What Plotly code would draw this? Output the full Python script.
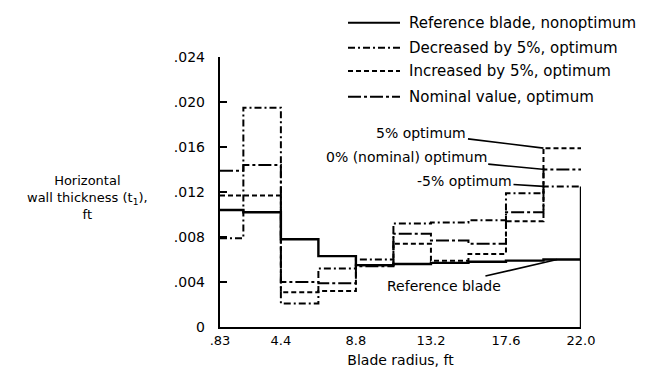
import plotly.graph_objects as go

# ---- data ----
radius_edges = [0.83, 2.2, 4.4, 6.6, 8.8, 11.0, 13.2, 15.4, 17.6, 19.8, 22.0]
reference_blade = [0.0104, 0.0102, 0.0078, 0.0063, 0.0055, 0.0056, 0.0057, 0.0058, 0.0059, 0.0060]
decreased_5 = [0.0079, 0.0195, 0.0021, 0.0052, 0.0060, 0.0092, 0.0093, 0.0095, 0.0119, 0.0125]
increased_5 = [0.0117, 0.0117, 0.0031, 0.0032, 0.0055, 0.0074, 0.0059, 0.0065, 0.0094, 0.0159]
nominal = [0.0139, 0.0144, 0.0040, 0.0039, 0.0054, 0.0083, 0.0077, 0.0074, 0.0102, 0.0140]

x_tickvals = [0.83, 4.4, 8.8, 13.2, 17.6, 22.0]
x_ticktext = [".83", "4.4", "8.8", "13.2", "17.6", "22.0"]
y_tickvals = [0, 0.004, 0.008, 0.012, 0.016, 0.020, 0.024]
y_ticktext = ["0", ".004", ".008", ".012", ".016", ".020", ".024"]

FONT = "DejaVu Sans"

series = [
    ("Reference blade, nonoptimum", reference_blade, "solid", 2.4),
    ("Decreased by 5%, optimum", decreased_5, "7px,3px,2px,3px", 2.0),
    ("Increased by 5%, optimum", increased_5, "5px,3px", 2.0),
    ("Nominal value, optimum", nominal, "13px,3px,3px,3px", 2.0),
]

fig = go.Figure()
for i, (name, vals, dash, w) in enumerate(series):
    fig.add_trace(go.Scatter(
        x=radius_edges, y=vals + [vals[-1]],
        mode="lines", line=dict(shape="hv", color="black", width=w, dash=dash),
        name=name, showlegend=False,
    ))

# closing vertical at blade tip
fig.add_shape(type="line", xref="x", yref="y",
              x0=radius_edges[-1], x1=radius_edges[-1], y0=0, y1=decreased_5[-1],
              line=dict(color="black", width=2.4))

# legend key drawn at the top right (fixed positions, paper coordinates)
legend_rows_y = [1.127, 1.034, 0.948, 0.853]
for (name, vals, dash, w), ly in zip(series, legend_rows_y):
    fig.add_shape(type="line", xref="paper", yref="paper",
                  x0=0.3546, x1=0.4986, y0=ly, y1=ly,
                  line=dict(color="black", width=2.0, dash=dash))
    fig.add_annotation(xref="paper", yref="paper", x=0.518, y=ly, text=name,
                       xanchor="left", yanchor="middle", showarrow=False,
                       font=dict(family=FONT, size=15, color="black"))

ann_font = dict(family=FONT, size=14, color="black")
labels = [
    ("5% optimum", 19.8, increased_5[-1], -122, -15),
    ("0% (nominal) optimum", 19.9, nominal[-1], -139, -13),
    ("-5% optimum", 19.8, decreased_5[-1], -79, -5),
    ("Reference blade", 20.6, reference_blade[-1], -113, 26),
]
for text, xv, yv, ax, ay in labels:
    fig.add_annotation(x=xv, y=yv, xref="x", yref="y", text=text, showarrow=True,
                       arrowhead=0, arrowwidth=1.6, arrowcolor="black", ax=ax, ay=ay,
                       standoff=0, font=ann_font)

fig.add_annotation(xref="paper", yref="paper", x=-0.368, y=0.481,
                   xanchor="center", yanchor="middle",
                   text="Horizontal<br>wall thickness (t<sub>1</sub>),<br>ft",
                   showarrow=False, font=dict(family=FONT, size=13, color="black"),
                   align="center")

fig.update_layout(
    width=647, height=377,
    margin=dict(l=220, r=66, t=57, b=50),
    paper_bgcolor="white", plot_bgcolor="white",
    font=dict(family=FONT, size=14, color="black"),
    showlegend=False,
    xaxis=dict(range=[0.83, 22.0], tickvals=x_tickvals, ticktext=x_ticktext,
               showgrid=False, zeroline=False, showline=True, linecolor="black",
               linewidth=2.4, ticks="", tickfont=dict(size=13),
               title=dict(text="Blade radius, ft", standoff=8, font=dict(size=14))),
    yaxis=dict(range=[0, 0.024], tickvals=y_tickvals, ticktext=y_ticktext,
               showgrid=False, zeroline=False, showline=True, linecolor="black",
               linewidth=2.4, ticks="inside", ticklen=7, tickwidth=2, tickcolor="black",
               ticklabelstandoff=10, tickfont=dict(size=14)),
)

fig.write_html("out.html")
